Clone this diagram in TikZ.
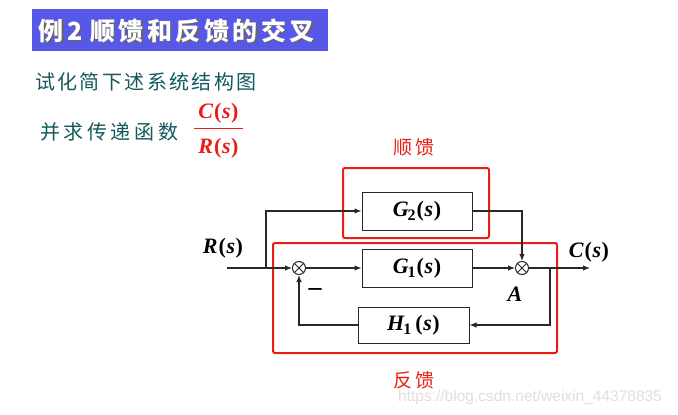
\documentclass[tikz,border=0pt]{standalone}
\usepackage{fontspec}
\setmainfont{Liberation Serif}
\newfontfamily\cjk{Noto Sans CJK SC}[LetterSpace=12]
\newfontfamily\cjkwide{Noto Sans CJK SC}[LetterSpace=18]
\newfontfamily\cjkred{Noto Sans CJK SC}[LetterSpace=18]
\newfontfamily\cjktitle{Noto Sans CJK SC}[LetterSpace=14]
\newfontfamily\wmfont{Liberation Sans}
\usetikzlibrary{arrows.meta}
\definecolor{barblue}{RGB}{88,88,232}
\definecolor{tealtext}{RGB}{18,88,92}
\definecolor{redc}{RGB}{232,30,22}
\definecolor{linec}{RGB}{40,40,40}
\newcommand{\lowsub}[1]{\kern-1pt\raisebox{-0.4ex}{\fontsize{16}{16}\selectfont\upshape\bfseries #1}}
\newcommand{\ofs}{\kern1pt\textup{(}\kern0.6pt s\kern0.6pt\textup{)}}
\tikzset{
  blockbox/.style={draw=linec,line width=1pt,minimum width=110pt,minimum height=38pt,inner sep=0pt,font=\fontsize{22}{22}\selectfont\bfseries\itshape},
  sumnode/.style={draw=linec,line width=1pt,circle,minimum size=13pt,inner sep=0pt},
  redframe/.style={draw=redc,line width=2pt,rounded corners=2pt,inner sep=0pt},
  conn/.style={draw=linec,line width=1.1pt},
  arr/.style={conn,-{Latex[length=7pt,width=5.5pt]}},
  lbl/.style={font=\fontsize{22}{22}\selectfont\bfseries\itshape,inner sep=0pt},
  redlbl/.style={text=redc,font=\cjkred\fontsize{19}{19}\selectfont,inner sep=0pt},
}
\begin{document}
\begin{tikzpicture}[x=1pt,y=-1pt]
\useasboundingbox (0,0) rectangle (678,415);
% title bar
\fill[barblue] (32,9) rectangle (328,51);
\node[inner sep=0pt,anchor=west,text=black!60,font=\cjktitle\bfseries\fontsize{25}{25}\selectfont] (titleshadow) at (40,32) {例2\hspace{8pt}顺馈和反馈的交叉};
\node[inner sep=0pt,anchor=west,text=white,font=\cjktitle\bfseries\fontsize{25}{25}\selectfont] (title) at (38.5,30.5) {例2\hspace{8pt}顺馈和反馈的交叉};
% text lines
\node[inner sep=0pt,anchor=west,text=tealtext,font=\cjk\fontsize{20}{20}\selectfont] (line1) at (35,82) {试化简下述系统结构图};
\node[inner sep=0pt,anchor=west,text=tealtext,font=\cjkwide\fontsize{20}{20}\selectfont] (line2) at (40,132) {并求传递函数};
\node[lbl,text=redc] (fnum) at (218.5,113) {C\ofs};
\node[lbl,text=redc] (fden) at (218.5,148) {R\ofs};
\coordinate (fl) at (194,128.5);
\coordinate (fr) at (243,128.5);
\draw[redc,line width=1.2pt] (fl) -- (fr);
% red frames
\node[redframe,minimum width=146pt,minimum height=70pt] (ffbox) at (416,203) {};
\node[redframe,minimum width=284pt,minimum height=110pt] (fbbox) at (415,298) {};
\node[redlbl] (fflbl) at (414,147) {顺馈};
\node[redlbl] (fblbl) at (414,380) {反馈};
% blocks
\node[blockbox] (g2) at (417,211) {G\lowsub{2}\ofs};
\node[blockbox] (g1) at (417,268) {G\lowsub{1}\ofs};
\node[blockbox,minimum width=111pt,minimum height=36pt] (h1) at (413.5,325) {H\lowsub{1}\kern3pt\ofs};
% summing junctions
\node[sumnode] (s1) at (299,268) {};
\node[sumnode] (s2) at (522,268) {};
\draw[conn,line width=0.9pt] (s1.north west) -- (s1.south east) (s1.north east) -- (s1.south west);
\draw[conn,line width=0.9pt] (s2.north west) -- (s2.south east) (s2.north east) -- (s2.south west);
% coordinates
\coordinate (in) at (227,268);
\coordinate (b1) at (266,268);
\coordinate (b2) at (550,268);
\coordinate (out) at (590,268);
% connectors
\draw[arr] (in) -- (s1.west);
\draw[arr] (b1) |- (g2.west);
\draw[arr] (s1.east) -- (g1.west);
\draw[arr] (g1.east) -- (s2.west);
\draw[arr] (g2.east) -| (s2.north);
\draw[arr] (s2.east) -- (out);
\draw[arr] (b2) |- (h1.east);
\draw[arr] (h1.west) -| (s1.south);
% labels
\node[lbl] (rlbl) at (223,248) {R\ofs};
\node[lbl] (clbl) at (589,252) {C\ofs};
\node[lbl] (alabel) at (515,294) {A};
\node[inner sep=0pt,font=\fontsize{26}{26}\selectfont\bfseries] (minus) at (315,292) {\textendash};
% watermark
\node[inner sep=0pt,anchor=west,text=black!13,font=\wmfont\fontsize{15.5}{15.5}\selectfont] (wm) at (398,397) {https://blog.csdn.net/weixin\_44378835};
\end{tikzpicture}
\end{document}
